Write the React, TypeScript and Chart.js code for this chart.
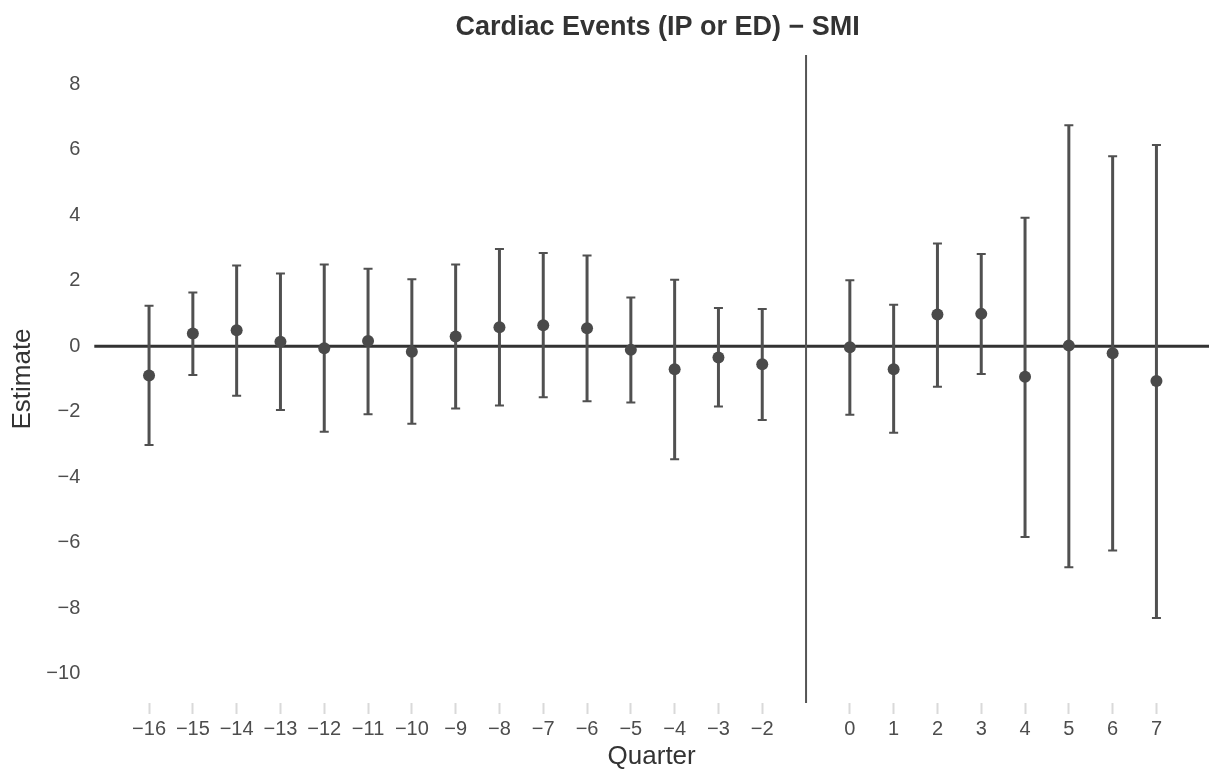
import React, { useEffect, useRef } from "react";
import { Chart, registerables } from "chart.js";

Chart.register(...registerables);

// Event-study estimates by quarter relative to the event (quarter -1 is the reference)
const QUARTERS = [-16, -15, -14, -13, -12, -11, -10, -9, -8, -7, -6, -5, -4, -3, -2, 0, 1, 2, 3, 4, 5, 6, 7];
const ESTIMATES = [-0.89, 0.39, 0.49, 0.14, -0.06, 0.16, -0.17, 0.3, 0.58, 0.64, 0.55, -0.11, -0.7, -0.34, -0.55, -0.03, -0.7, 0.97, 0.99, -0.93, 0.02, -0.21, -1.06];
const LOWER = [-3.02, -0.88, -1.51, -1.95, -2.61, -2.08, -2.37, -1.9, -1.81, -1.56, -1.68, -1.72, -3.45, -1.84, -2.25, -2.09, -2.64, -1.24, -0.85, -5.83, -6.75, -6.24, -8.3];
const UPPER = [1.24, 1.64, 2.47, 2.22, 2.5, 2.37, 2.05, 2.5, 2.97, 2.85, 2.77, 1.49, 2.03, 1.17, 1.14, 2.02, 1.27, 3.14, 2.82, 3.93, 6.75, 5.81, 6.15];
const Y_TICKS = [-10, -8, -6, -4, -2, 0, 2, 4, 6, 8];

const REFERENCE_QUARTER = -1;
const ZERO_LINE = 0;

const TITLE = "Cardiac Events (IP or ED) \u2212 SMI";
const FONT = "'Liberation Sans', Arial, Helvetica, sans-serif";

const fmt = (v: number) => (v < 0 ? "\u2212" + Math.abs(v) : String(v));

const referenceAndErrorBars = {
  id: "referenceAndErrorBars",
  beforeDatasetsDraw(chart: any) {
    const { ctx, chartArea, scales } = chart;
    const { left, right, top, bottom } = chartArea;
    const x = scales.x;
    const y = scales.y;
    ctx.save();

    // horizontal line at zero
    const y0 = y.getPixelForValue(ZERO_LINE);
    ctx.strokeStyle = "#333333";
    ctx.lineWidth = 3;
    ctx.beginPath();
    ctx.moveTo(left, y0);
    ctx.lineTo(right, y0);
    ctx.stroke();

    // vertical line at the reference quarter
    const xv = x.getPixelForValue(REFERENCE_QUARTER);
    ctx.strokeStyle = "#555555";
    ctx.lineWidth = 2;
    ctx.beginPath();
    ctx.moveTo(xv, top);
    ctx.lineTo(xv, bottom);
    ctx.stroke();

    // confidence-interval bars with caps
    ctx.strokeStyle = "#505050";
    QUARTERS.forEach((q, i) => {
      const px = x.getPixelForValue(q);
      const yl = y.getPixelForValue(LOWER[i]);
      const yu = y.getPixelForValue(UPPER[i]);
      ctx.lineWidth = 3;
      ctx.beginPath();
      ctx.moveTo(px, yl);
      ctx.lineTo(px, yu);
      ctx.stroke();
      ctx.lineWidth = 2;
      ctx.beginPath();
      ctx.moveTo(px - 4.5, yl);
      ctx.lineTo(px + 4.5, yl);
      ctx.moveTo(px - 4.5, yu);
      ctx.lineTo(px + 4.5, yu);
      ctx.stroke();
    });
    ctx.restore();
  },
  afterDraw(chart: any) {
    const { ctx, chartArea } = chart;
    ctx.save();
    ctx.fillStyle = "#333333";
    ctx.font = `bold 27px ${FONT}`;
    ctx.textAlign = "center";
    ctx.textBaseline = "middle";
    ctx.fillText(TITLE, (chartArea.left + chartArea.right) / 2 + 6, 28);
    ctx.restore();
  },
};

export default function App() {
  const canvasRef = useRef<HTMLCanvasElement | null>(null);

  useEffect(() => {
    const canvas = canvasRef.current;
    if (!canvas) return;
    const chart = new Chart(canvas, {
      type: "scatter",
      data: {
        datasets: [
          {
            data: QUARTERS.map((q, i) => ({ x: q, y: ESTIMATES[i] })),
            pointRadius: 6,
            pointHoverRadius: 6,
            pointBackgroundColor: "#4a4a4a",
            pointBorderWidth: 0,
            borderWidth: 0,
          },
        ],
      },
      options: {
        responsive: false,
        animation: false,
        events: [],
        layout: { autoPadding: false, padding: { top: 55, left: 0, right: 0, bottom: 0 } },
        plugins: {
          legend: { display: false },
          tooltip: { enabled: false },
          title: { display: false },
        },
        scales: {
          x: {
            type: "linear",
            min: -17.25,
            max: 8.2,
            afterBuildTicks: (scale: any) => {
              scale.ticks = QUARTERS.map((v) => ({ value: v }));
            },
            afterFit: (scale: any) => {
              scale.height = 69;
            },
            border: { display: false },
            grid: {
              drawOnChartArea: false,
              drawTicks: true,
              tickLength: 11,
              tickWidth: 2,
              tickColor: "#d9d9d9",
            },
            ticks: {
              autoSkip: false,
              maxRotation: 0,
              padding: 3,
              color: "#4d4d4d",
              font: { family: FONT, size: 20 },
              callback: (v: any) => fmt(Number(v)),
            },
            title: {
              display: true,
              text: "Quarter",
              color: "#333333",
              font: { family: FONT, size: 26 },
              padding: { top: 0, bottom: 0 },
            },
          },
          y: {
            type: "linear",
            min: -10.9,
            max: 8.9,
            afterBuildTicks: (scale: any) => {
              scale.ticks = Y_TICKS.map((v) => ({ value: v }));
            },
            afterFit: (scale: any) => {
              scale.width = 94.3;
            },
            border: { display: false },
            grid: { display: false, drawTicks: false },
            ticks: {
              padding: 14,
              color: "#4d4d4d",
              font: { family: FONT, size: 20 },
              callback: (v: any) => fmt(Number(v)),
            },
            title: {
              display: true,
              text: "Estimate",
              color: "#333333",
              font: { family: FONT, size: 26 },
              padding: { top: 7, bottom: 0 },
            },
          },
        },
      },
      plugins: [referenceAndErrorBars],
    });
    return () => chart.destroy();
  }, []);

  return (
    <div style={{ position: "fixed", left: 0, top: 0, width: 1209, height: 772, background: "#ffffff" }}>
      <canvas ref={canvasRef} width={1209} height={772} style={{ width: 1209, height: 772, display: "block" }} />
    </div>
  );
}
